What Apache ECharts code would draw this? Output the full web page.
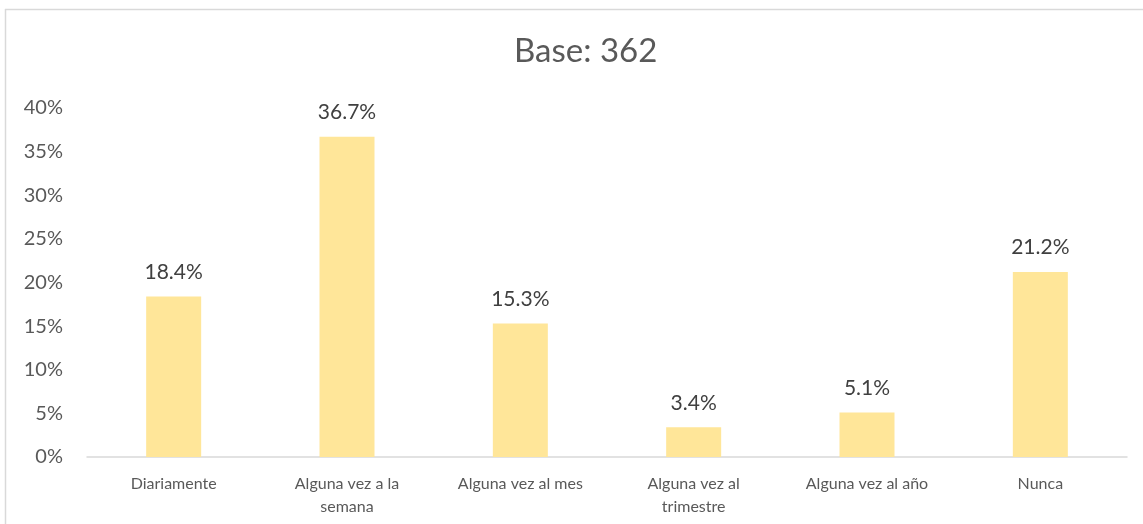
<!DOCTYPE html>
<html lang="es">
<head>
    <meta charset="utf-8">
    <title>Base: 362</title>
    <script src="https://cdn.jsdelivr.net/npm/echarts@6/dist/echarts.min.js"></script>
</head>
<body style="margin:0;background:#fff;">
    <div id="main" style="width:1143px;height:524px;"></div>
<script type="text/javascript">
    // categorías y valores (%)
    var categories = ['Diariamente', 'Alguna vez a la\nsemana', 'Alguna vez al mes',
        'Alguna vez al\ntrimestre', 'Alguna vez al año', 'Nunca'];
    var values = [18.4, 36.7, 15.3, 3.4, 5.1, 21.2];
    var titleText = 'Base: 362';

    var font = 'Lato, "Open Sans", sans-serif';
    var myChart = echarts.init(document.getElementById('main'));

    var option = {
        animation: false,
        title: {
            text: titleText,
            left: 509,
            top: 30,
            textStyle: { fontFamily: font, fontSize: 33, fontWeight: 'normal', color: '#595959' }
        },
        // marco gris del gráfico
        graphic: [
            { type: 'line', shape: { x1: 5, y1: 9.5, x2: 1143, y2: 9.5 }, style: { stroke: '#d9d9d9', lineWidth: 1.5 } },
            { type: 'line', shape: { x1: 5.5, y1: 9, x2: 5.5, y2: 524 }, style: { stroke: '#d9d9d9', lineWidth: 1.5 } }
        ],
        grid: { left: 87, right: 16, top: 108, bottom: 67 },
        xAxis: {
            type: 'category',
            data: categories,
            axisLine: { lineStyle: { color: '#d9d9d9', width: 1.5 } },
            axisTick: { show: false },
            axisLabel: {
                interval: 0,
                margin: 15,
                fontFamily: font,
                fontSize: 16,
                lineHeight: 23,
                color: '#595959'
            }
        },
        yAxis: {
            type: 'value',
            min: 0,
            max: 40,
            interval: 5,
            splitLine: { show: false },
            axisLine: { show: false },
            axisTick: { show: false },
            axisLabel: {
                formatter: '{value}%',
                margin: 24,
                fontFamily: font,
                fontSize: 20,
                color: '#595959'
            }
        },
        series: [{
            type: 'bar',
            data: values,
            barWidth: 55,
            itemStyle: { color: '#ffe699' },
            label: {
                show: true,
                position: 'top',
                distance: 14,
                formatter: function (p) { return p.value.toFixed(1) + '%'; },
                fontFamily: font,
                fontSize: 21,
                color: '#404040'
            }
        }]
    };

    myChart.setOption(option);
</script>
</body>
</html>
